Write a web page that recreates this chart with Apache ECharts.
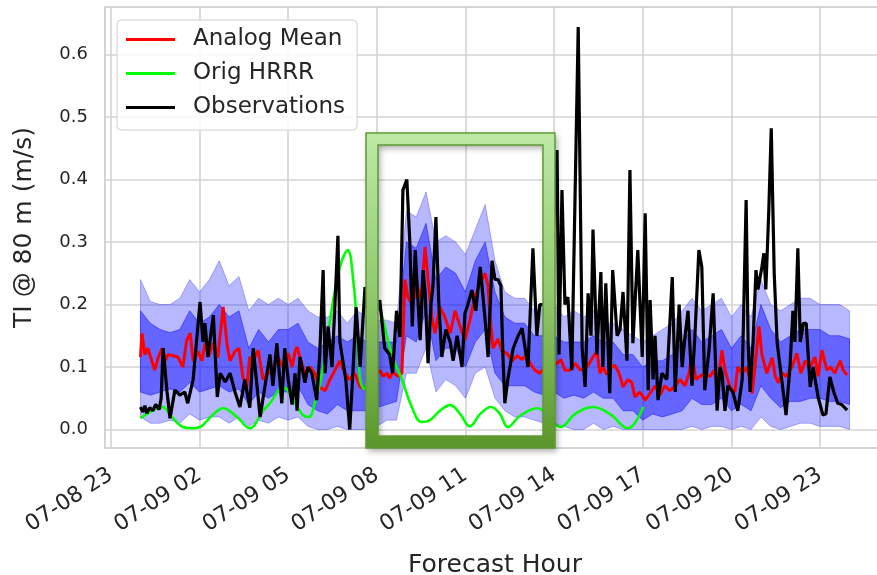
<!DOCTYPE html>
<html><head><meta charset="utf-8">
<script src="https://cdn.jsdelivr.net/npm/echarts@6/dist/echarts.min.js"></script>
<style>html,body{margin:0;padding:0;background:#fff}#c{width:877px;height:575px}</style>
</head><body><div id="c"></div>
<script>
// time values are minutes since 07-09 00:00
const BASE = 240; // axis counts minutes since 07-08 20:00
const observations = [[0,.036],[5,.028],[9,.038],[13,.026],[19,.035],[25,.03],[31,.04],[38,.032],[42,.05],[46,.13],[54,.06],[60,.018],[70,.063],[80,.055],[90,.06],[96,.042],[107,.08],[121,.204],[127,.14],[131,.17],[137,.116],[148,.183],[156,.052],[162,.09],[172,.076],[182,.09],[192,.06],[202,.036],[212,.08],[222,.035],[229,.13],
[243,.02],[253,.07],[263,.12],[269,.07],[277,.138],[287,.042],[293,.13],[300,.08],[308,.04],[314,.09],[318,.03],[324,.116],[334,.075],[340,.1],[348,.09],[358,.047],[364,.12],[371,.255],[375,.09],[381,.165],[389,.1],[395,.2],[401,.31],[405,.14],[411,.11],[417,.08],[425,0],[432,.1],[438,.196],[446,.1],[456,.228],
[466,.15],[476,.18],[486,.207],[496,.13],[506,.12],[512,.09],[520,.19],[527,.148],[533,.383],[541,.4],[547,.3],[552,.165],[558,.287],[564,.2],[568,.143],[574,.255],[578,.22],[584,.106],[590,.2],[594,.23],[600,.34],[606,.2],[612,.116],[620,.16],[629,.14],[635,.11],[643,.15],[653,.1],[659,.186],[665,.2],[673,.223],[681,.19],[690,.26],
[700,.175],[706,.116],[714,.27],[720,.24],[726,.24],[732,.23],[736,.12],[740,.042],[746,.08],[757,.13],[767,.15],[775,.162],[787,.1],[797,.29],[805,.15],[811,.2],[822,.2],[832,.2],[846,.447],[850,.12],[856,.383],[862,.2],[868,.212],[876,.095],[889,.644],[897,.13],[903,.068],[909,.218],[915,.15],[919,.32],
[927,.12],[935,.252],[939,.1],[945,.234],[953,.058],[959,.255],[968,.15],[974,.16],[980,.22],[988,.11],[994,.415],[1000,.138],[1010,.287],[1019,.116],[1025,.346],[1031,.063],[1035,.207],[1041,.08],[1045,.15],[1051,.047],[1059,.09],[1069,.08],[1080,.244],[1086,.06],[1094,.2],[1100,.1],[1106,.15],[1112,.19],[1120,.07],[1126,.15],[1134,.287],[1140,.26],[1146,.063],[1155,.13],[1163,.218],
[1171,.03],[1177,.1],[1181,.09],[1187,.03],[1193,.07],[1203,.06],[1213,.03],[1222,.08],[1230,.367],[1234,.14],[1238,.06],[1244,.14],[1250,.255],[1254,.224],[1262,.26],[1266,.282],[1270,.224],[1276,.35],[1281,.482],[1287,.25],[1293,.138],[1303,.075],[1311,.023],[1319,.1],[1325,.19],[1329,.14],[1335,.29],[1340,.14],[1346,.17],[1352,.17],[1360,.068],[1366,.1],[1376,.052],[1386,.023],[1392,.025],[1400,.084],[1408,.06],[1416,.042],[1424,.04],[1435,.031]];

const analogMean = [[0,.116],[3,.154],[9,.12],[15,.13],[23,.11],[29,.095],[36,.115],[44,.13],[50,.11],[56,.12],[66,.118],[76,.116],[86,.1],[94,.143],[101,.154],[107,.11],[117,.125],[125,.11],[131,.138],[139,.118],[147,.138],[157,.115],[168,.196],[176,.135],[182,.11],[192,.125],[200,.13],[208,.084],[216,.068],[222,.116],
[229,.11],[239,.127],[249,.08],[259,.09],[269,.095],[279,.116],[290,.1],[300,.122],[308,.1],[314,.125],[318,.132],[324,.115],[334,.09],[344,.1],[354,.09],[364,.068],[375,.062],[385,.08],[395,.095],[405,.11],[415,.09],[425,.08],[435,.09],[446,.068],[456,.065],
[466,.075],[476,.085],[486,.095],[493,.085],[501,.09],[506,.082],[512,.092],[523,.085],[531,.09],[537,.24],[543,.212],[552,.2],[562,.228],[570,.21],[578,.292],[584,.24],[592,.18],[598,.154],[608,.196],[618,.18],[629,.154],[639,.19],[649,.165],[659,.143],[669,.175],[679,.212],[690,.234],
[700,.25],[706,.228],[710,.18],[716,.13],[726,.145],[734,.125],[744,.122],[755,.11],[765,.118],[775,.112],[785,.12],[791,.106],[801,.095],[811,.09],[822,.1],[832,.1],[846,.106],[854,.112],[862,.095],[872,.095],[883,.106],[893,.095],[907,.1],[919,.116],[927,.125],
[933,.09],[939,.1],[947,.088],[957,.1],[963,.103],[972,.09],[980,.068],[990,.08],[998,.075],[1004,.052],[1014,.06],[1025,.047],[1035,.058],[1045,.07],[1055,.055],[1065,.07],[1075,.062],[1086,.07],[1096,.08],[1106,.07],[1114,.09],[1120,.12],[1128,.08],[1136,.085],[1146,.09],[1157,.085],[1165,.095],
[1173,.075],[1181,.127],[1187,.095],[1197,.068],[1207,.06],[1213,.1],[1222,.09],[1232,.1],[1242,.058],[1248,.1],[1256,.165],[1262,.12],[1272,.09],[1283,.115],[1289,.085],[1295,.075],[1303,.09],[1311,.085],[1323,.1],[1333,.122],[1341,.09],[1350,.11],[1360,.1],[1370,.116],[1376,.085],[1384,.127],[1394,.095],[1402,.1],[1410,.09],[1421,.11],[1427,.095],[1435,.087]];

const origHRRR = [[0,.018],[19,.028],[44,.036],[64,.02],[86,.004],[105,.002],[121,.004],[145,.022],[168,.034],[196,.02],[222,.002],[249,.03],[263,.042],[290,.068],[310,.047],[330,.023],[342,.02],[354,.042],[369,.09],[385,.175],[405,.26],[421,.287],[432,.24],[440,.16],[446,.08],[454,.065],[468,.12],[483,.2],[491,.18],[512,.116],[531,.08],[551,.036],[571,.012],[588,.015],[608,.03],[629,.039],[649,.025],[669,.005],[690,.025],[712,.036],[730,.025],[746,.004],[771,.022],[806,.034],[829,.02],[853,.004],[883,.025],[919,.036],[953,.025],[990,.002],[1021,.036]];

// ensemble bands, sampled every 20 minutes
const bandMin = Array.from({length: 73}, (_, k) => k * 20);
const innerLo = [.06,.055,.06,.065,.06,.075,.06,.065,.07,.06,.065,.04,.06,.05,.06,.06,.07,.04,.03,.025,.04,.03,.03,.03,.035,.04,.045,.15,.14,.19,.11,.13,.13,.1,.14,.16,.09,.07,.07,.07,.06,.055,.06,.05,.055,.05,.06,.05,.05,.03,.03,.015,.025,.02,.025,.03,.05,.04,.04,.05,.03,.04,.03,.07,.05,.035,.045,.045,.05,.05,.045,.045,.04];
const innerHi = [.19,.17,.16,.155,.16,.19,.17,.18,.2,.18,.19,.13,.16,.14,.16,.16,.17,.14,.13,.14,.15,.14,.15,.14,.14,.14,.14,.3,.29,.33,.24,.26,.25,.22,.27,.3,.22,.18,.17,.17,.15,.15,.15,.14,.14,.14,.15,.14,.14,.12,.12,.1,.11,.11,.12,.14,.16,.14,.15,.16,.13,.15,.13,.2,.16,.14,.15,.16,.16,.16,.15,.15,.145];
const outerLo = [.02,.01,.01,.015,.01,.025,.015,.02,.02,.01,.02,.005,.015,.01,.02,.015,.02,.005,0,0,.005,0,0,0,.005,.015,.015,.09,.09,.13,.06,.08,.07,.05,.09,.1,.05,.03,.02,.02,.015,.01,.01,.005,0,0,.01,0,.005,0,0,0,0,0,0,0,.005,0,.005,.005,0,.005,0,.02,.005,0,.005,.01,.01,.005,.005,.005,0];
const outerHi = [.24,.205,.2,.2,.21,.24,.22,.24,.27,.23,.245,.19,.21,.2,.21,.2,.21,.19,.18,.18,.19,.17,.19,.18,.175,.175,.17,.35,.34,.38,.3,.31,.3,.28,.32,.36,.27,.22,.21,.21,.19,.2,.2,.18,.19,.18,.19,.17,.17,.16,.15,.14,.15,.16,.17,.19,.21,.19,.2,.21,.18,.2,.18,.24,.2,.19,.2,.21,.21,.2,.2,.2,.19];

const FONT = 'DejaVu Sans';
const TXT = '#262626';
const pad2 = n => (n < 10 ? '0' : '') + n;
function fmtTime(v) {
  const total = 20 * 60 + Math.round(v);
  const day = 8 + Math.floor(total / 1440);
  const hh = Math.floor((total % 1440) / 60);
  return '07-' + pad2(day) + ' ' + pad2(hh);
}
const shift = arr => arr.map(p => [p[0] + BASE, p[1]]);

function band(lo, hi, color, name) {
  return {
    type: 'custom', name: name, silent: true, z: 1,
    data: bandMin.map((t, i) => [t + BASE, lo[i], hi[i]]),
    encode: { x: 0, y: [1, 2] },
    renderItem: function (params, api) {
      if (params.dataIndex !== 0) return { type: 'group', children: [] };
      const pts = [];
      for (let i = 0; i < bandMin.length; i++) pts.push(api.coord([bandMin[i] + BASE, hi[i]]));
      for (let i = bandMin.length - 1; i >= 0; i--) pts.push(api.coord([bandMin[i] + BASE, lo[i]]));
      return { type: 'polygon', shape: { points: pts }, style: { fill: color, stroke: color, lineWidth: 1 } };
    }
  };
}

const chart = echarts.init(document.getElementById('c'), null, { renderer: 'canvas' });
chart.setOption({
  animation: false,
  backgroundColor: '#ffffff',
  grid: { left: 105, top: 7, width: 780, height: 441, show: true, borderColor: '#cccccc', borderWidth: 1.5, containLabel: false, outerBoundsMode: 'none' },
  legend: {
    left: 117, top: 20, orient: 'vertical',
    padding: [8, 12, 11, 9], itemGap: 11, itemWidth: 49, itemHeight: 3,
    backgroundColor: 'rgba(255,255,255,0.85)', borderColor: '#d0d0d0', borderWidth: 1, borderRadius: 4,
    textStyle: { fontFamily: FONT, fontSize: 23, color: TXT, padding: [0, 0, 0, 13] },
    data: [{ name: 'Analog Mean', icon: 'rect' }, { name: 'Orig HRRR', icon: 'rect' }, { name: 'Observations', icon: 'rect' }]
  },
  xAxis: {
    type: 'value', min: 168, max: 1752, minInterval: 180, maxInterval: 180,
    name: 'Forecast Hour', nameLocation: 'middle', nameGap: 105,
    nameTextStyle: { fontFamily: FONT, fontSize: 25, color: TXT },
    axisLine: { show: false }, axisTick: { show: false },
    axisLabel: { rotate: 33, margin: 25, fontFamily: FONT, fontSize: 22, color: TXT, formatter: fmtTime, showMinLabel: false, showMaxLabel: false },
    splitLine: { show: true, lineStyle: { color: '#d4d4d4', width: 1.6 } }
  },
  yAxis: {
    type: 'value', min: -0.0296, max: 0.676, minInterval: 0.1, maxInterval: 0.1,
    name: 'TI @ 80 m (m/s)', nameLocation: 'middle', nameGap: 68,
    nameTextStyle: { fontFamily: FONT, fontSize: 25, color: TXT },
    axisLine: { show: false }, axisTick: { show: false },
    axisLabel: { margin: 17, fontFamily: FONT, fontSize: 18, color: TXT, formatter: v => v.toFixed(1), showMinLabel: false, showMaxLabel: false },
    splitLine: { show: true, lineStyle: { color: '#d4d4d4', width: 1.6 } }
  },
  series: [
    band(outerLo, outerHi, 'rgba(0,0,255,0.28)', 'outer'),
    band(innerLo, innerHi, 'rgba(0,0,255,0.45)', 'inner'),
    { type: 'line', name: 'Analog Mean', data: shift(analogMean), symbol: 'none', z: 3, itemStyle: { color: '#ff0000' }, lineStyle: { color: '#ff0000', width: 3 } },
    { type: 'line', name: 'Orig HRRR', data: shift(origHRRR), symbol: 'none', smooth: 0.4, z: 4, itemStyle: { color: '#00ff00' }, lineStyle: { color: '#00ff00', width: 2.6 } },
    { type: 'line', name: 'Observations', data: shift(observations), symbol: 'none', z: 5, itemStyle: { color: '#000000' }, lineStyle: { color: '#000000', width: 3.2 } }
  ],
  graphic: [
    { type: 'rect', z: 100, silent: true, shape: { x: 372, y: 139, width: 177, height: 303 },
      style: { fill: null, lineWidth: 12,
        stroke: new echarts.graphic.LinearGradient(0, 0, 0, 1, [{ offset: 0, color: '#bde9a6' }, { offset: 0.5, color: '#92c96f' }, { offset: 1, color: '#5a9629' }]),
        shadowBlur: 6, shadowOffsetX: 2, shadowOffsetY: 3, shadowColor: 'rgba(0,0,0,0.35)' } },
    { type: 'rect', z: 101, silent: true, shape: { x: 366, y: 133, width: 189, height: 315 }, style: { fill: null, stroke: '#5f9a34', lineWidth: 1.5 } },
    { type: 'rect', z: 101, silent: true, shape: { x: 378, y: 145, width: 165, height: 291 }, style: { fill: null, stroke: '#5f9a34', lineWidth: 1.5 } }
  ]
});
</script></body></html>
